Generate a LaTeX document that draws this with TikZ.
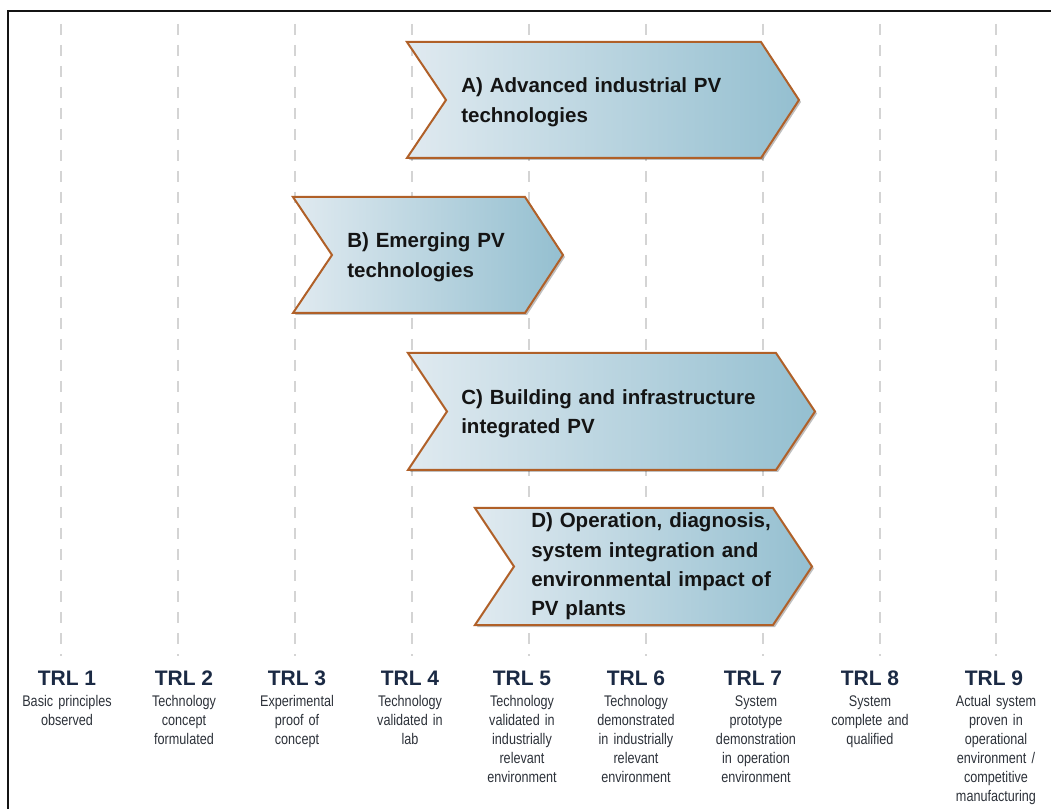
\documentclass[tikz,border=0pt]{standalone}
\usepackage{fontspec}
\setmainfont{Liberation Sans}
\newfontfamily\narrowfont[FakeStretch=0.82,WordSpace=0.8]{Liberation Sans}
\usetikzlibrary{shadows}
\definecolor{chevborder}{RGB}{176,96,40}
\definecolor{chevleft}{RGB}{224,234,240}
\definecolor{chevright}{RGB}{148,191,208}
\definecolor{trlnavy}{RGB}{27,42,68}
\definecolor{desctext}{RGB}{45,50,58}
\definecolor{dashgray}{RGB}{212,212,212}
\definecolor{framecol}{RGB}{20,20,20}
\tikzset{
  chevron/.style={draw=chevborder, line width=1.5pt, left color=chevleft, right color=chevright,
    line join=miter, drop shadow={shadow xshift=1.5pt, shadow yshift=-1.5pt, opacity=0.25, fill=black}},
  chevtext/.style={anchor=base west, align=left, text width=260pt, inner sep=0pt, text=black!92,
    font=\bfseries\fontsize{15.4pt}{22pt}\selectfont},
  trltitle/.style={anchor=base, inner sep=0pt, text=trlnavy,
    font=\bfseries\fontsize{15.75pt}{18pt}\selectfont},
  trldesc/.style={anchor=base, align=center, text width=80pt, inner sep=0pt, text=desctext,
    font=\narrowfont\fontsize{11.55pt}{14.25pt}\selectfont},
  dashline/.style={draw=dashgray, line width=1.5pt, dash pattern=on 8.25pt off 7.5pt},
  framebox/.style={draw=framecol, line width=1.5pt}
}
\begin{document}
\begin{tikzpicture}[x=0.75pt, y=-0.75pt]
\path[use as bounding box] (0,0) rectangle (1051,809);
\fill[white] (0,0) rectangle (1051,809);
\begin{scope}
  \clip (0,0) rectangle (1051,809);
  \draw[framebox] (8,11) rectangle (1080,840);
\end{scope}
% dashed guide lines
\foreach \x in {61,178,295,412,529,646,763,880,996}
  \draw[dashline] (\x,24) -- (\x,656);
% chevrons
\draw[chevron] (407,42) -- (761,42) -- (799,100) -- (761,158) -- (407,158) -- (446,100) -- cycle;
\draw[chevron] (293,197) -- (525,197) -- (563,255) -- (525,313) -- (293,313) -- (332,255) -- cycle;
\draw[chevron] (408,353) -- (776,353) -- (815,411.5) -- (776,470) -- (408,470) -- (447,411.5) -- cycle;
\draw[chevron] (475,508) -- (773,508) -- (812,566.5) -- (773,625) -- (475,625) -- (514,566.5) -- cycle;
\node[chevtext] (A) at (461,93) {A) Advanced industrial PV\\technologies};
\node[chevtext] (B) at (347,248) {B) Emerging PV\\technologies};
\node[chevtext] (C) at (461,404.5) {C) Building and infrastructure\\integrated PV};
\node[chevtext] (D) at (531,528) {D) Operation, diagnosis,\\system integration and\\environmental impact of\\PV plants};
% TRL labels
\node[trltitle] (t1) at (67,685) {TRL 1};
\node[trltitle] (t2) at (184,685) {TRL 2};
\node[trltitle] (t3) at (297,685) {TRL 3};
\node[trltitle] (t4) at (410,685) {TRL 4};
\node[trltitle] (t5) at (522,685) {TRL 5};
\node[trltitle] (t6) at (636,685) {TRL 6};
\node[trltitle] (t7) at (753,685) {TRL 7};
\node[trltitle] (t8) at (870,685) {TRL 8};
\node[trltitle] (t9) at (994,685) {TRL 9};
\node[trldesc] (d1) at (67,706) {Basic principles\\observed};
\node[trldesc] (d2) at (184,706) {Technology\\concept\\formulated};
\node[trldesc] (d3) at (297,706) {Experimental\\proof of\\concept};
\node[trldesc] (d4) at (410,706) {Technology\\validated in\\lab};
\node[trldesc] (d5) at (522,706) {Technology\\validated in\\industrially\\relevant\\environment};
\node[trldesc] (d6) at (636,706) {Technology\\demonstrated\\in industrially\\relevant\\environment};
\node[trldesc] (d7) at (756,706) {System\\prototype\\demonstration\\in operation\\environment};
\node[trldesc] (d8) at (870,706) {System\\complete and\\qualified};
\node[trldesc] (d9) at (996,706) {Actual system\\proven in\\operational\\environment /\\competitive\\manufacturing};
\end{tikzpicture}
\end{document}
